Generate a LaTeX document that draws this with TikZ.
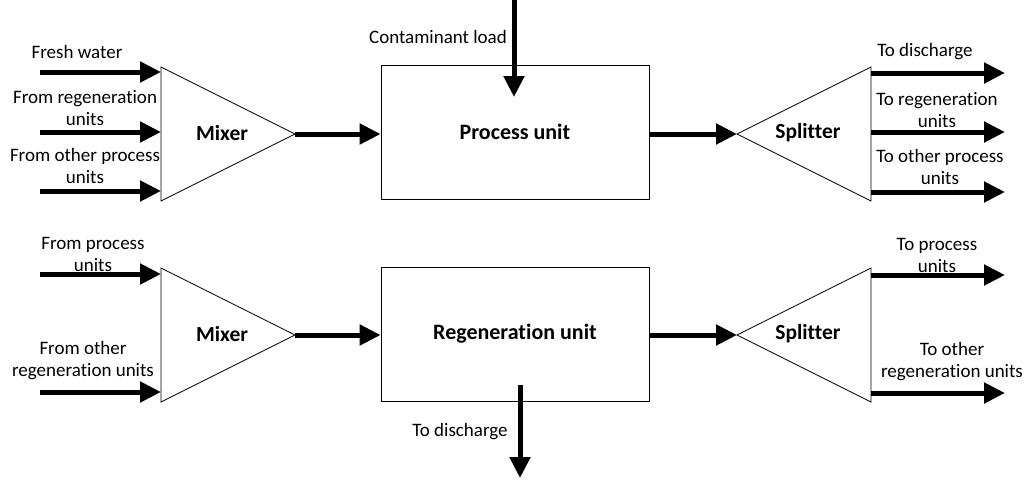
\documentclass[tikz,border=0pt]{standalone}
\usepackage{fontspec}
\setmainfont{Carlito}[Ligatures=NoCommon]
\usetikzlibrary{arrows.meta,positioning}

\begin{document}
\begin{tikzpicture}[x=1pt, y=-1pt,
  unit/.style={draw, line width=0.8pt, minimum width=268pt, minimum height=134pt, font=\bfseries\fontsize{22}{24}\selectfont},
  tag/.style={font=\bfseries\fontsize{21.5}{24}\selectfont},
  lbl/.style={align=center, inner sep=0pt, font=\fontsize{19}{22}\selectfont},
  flow/.style={line width=5pt, -{Triangle[length=21pt, width=20pt]}},
  outline/.style={draw, line width=0.8pt}
]
\useasboundingbox (0,0) rectangle (1029,483);

% units
\node[unit] (pu) at (515,132) {Process unit};
\node[unit] (ru) at (515,334) {Regeneration unit};

% mixers and splitters
\coordinate (mx1-top) at (161,67);  \coordinate (mx1-bot) at (161,201); \coordinate (mx1-out) at (295,134);
\coordinate (mx2-top) at (161,268); \coordinate (mx2-bot) at (161,402); \coordinate (mx2-out) at (295,335);
\coordinate (sp1-top) at (871,67);  \coordinate (sp1-bot) at (871,201); \coordinate (sp1-in) at (737,134);
\coordinate (sp2-top) at (871,268); \coordinate (sp2-bot) at (871,402); \coordinate (sp2-in) at (737,335);
\draw[outline] (mx1-top) -- (mx1-out) -- (mx1-bot) -- cycle;
\draw[outline] (mx2-top) -- (mx2-out) -- (mx2-bot) -- cycle;
\draw[outline] (sp1-top) -- (sp1-in) -- (sp1-bot) -- cycle;
\draw[outline] (sp2-top) -- (sp2-in) -- (sp2-bot) -- cycle;
\node[tag] (mx1) at (222,133) {Mixer};
\node[tag] (mx2) at (222,334) {Mixer};
\node[tag] (sp1) at (808,133) {Splitter};
\node[tag] (sp2) at (808,334) {Splitter};

% main line
\draw[flow] (mx1-out) -- (pu.west |- mx1-out);
\draw[flow] (pu.east |- sp1-in) -- (sp1-in);
\draw[flow] (mx2-out) -- (ru.west |- mx2-out);
\draw[flow] (ru.east |- sp2-in) -- (sp2-in);

% process unit streams
\coordinate (fw) at (40,72);  \coordinate (fr) at (40,132); \coordinate (fo) at (40,191);
\draw[flow] (fw) -- (fw -| mx1-top);
\draw[flow] (fr) -- (fr -| mx1-top);
\draw[flow] (fo) -- (fo -| mx1-top);
\node[lbl] (fw-lbl) at (77,52) {Fresh water};
\node[lbl] (fr-lbl) at (85,108) {From regeneration\\units};
\node[lbl] (fo-lbl) at (85,166) {From other process\\units};

\coordinate (cl) at (514,0); \coordinate (cl-end) at (514,97);
\draw[flow] (cl) -- (cl-end);
\node[lbl] (cl-lbl) at (438,37) {Contaminant load};

\coordinate (td) at (1005,73); \coordinate (tr) at (1005,132); \coordinate (to) at (1005,192);
\draw[flow] (td -| sp1-top) -- (td);
\draw[flow] (tr -| sp1-top) -- (tr);
\draw[flow] (to -| sp1-top) -- (to);
\node[lbl] (td-lbl) at (925,52) {To discharge};
\node[lbl] (tr-lbl) at (937,110) {To regeneration\\units};
\node[lbl] (to-lbl) at (940,167) {To other process\\units};

% regeneration unit streams
\coordinate (fp) at (40,274); \coordinate (fg) at (40,392);
\draw[flow] (fp) -- (fp -| mx2-top);
\draw[flow] (fg) -- (fg -| mx2-top);
\node[lbl] (fp-lbl) at (93,254) {From process\\units};
\node[lbl] (fg-lbl) at (83,361) {From other\\regeneration units};

\coordinate (rd) at (520,385); \coordinate (rd-end) at (520,478);
\draw[flow] (rd) -- (rd-end);
\node[lbl] (rd-lbl) at (460,432) {To discharge};

\coordinate (tp) at (1005,275); \coordinate (tg) at (1005,393);
\draw[flow] (tp -| sp2-top) -- (tp);
\draw[flow] (tg -| sp2-top) -- (tg);
\node[lbl] (tp-lbl) at (937,255) {To process\\units};
\node[lbl] (tg-lbl) at (952,362) {To other\\regeneration units};
\end{tikzpicture}
\end{document}
